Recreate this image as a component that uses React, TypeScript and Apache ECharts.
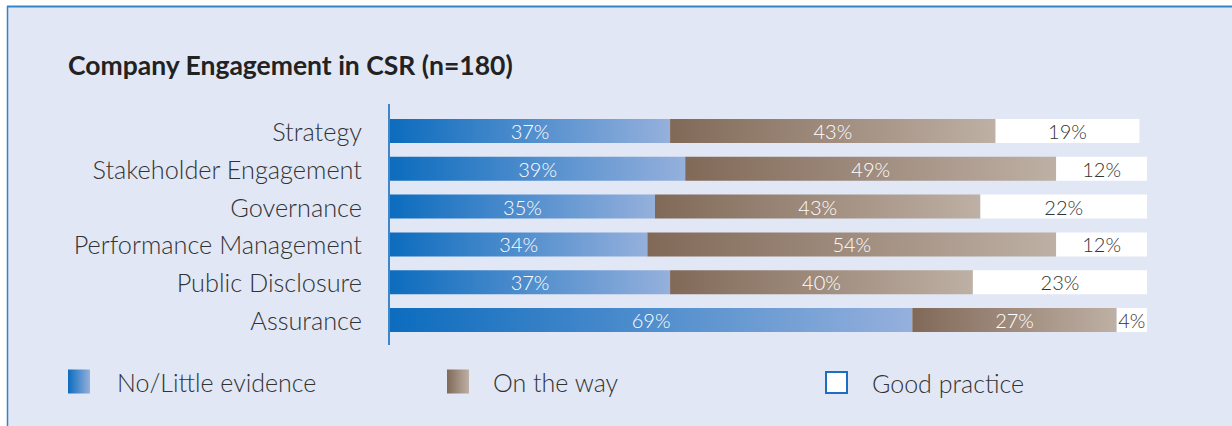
import React, { useEffect, useRef } from "react";
import * as echarts from "echarts";

const categories = [
  "Strategy",
  "Stakeholder Engagement",
  "Governance",
  "Performance Management",
  "Public Disclosure",
  "Assurance",
];
const noLittleEvidence = [37, 39, 35, 34, 37, 69];
const onTheWay = [43, 49, 43, 54, 40, 27];
const goodPractice = [19, 12, 22, 12, 23, 4];
const seriesNames = ["No/Little evidence", "On the way", "Good practice"];

const FONT = "Lato";

export default function App() {
  const ref = useRef<HTMLDivElement>(null);
  useEffect(() => {
    if (!ref.current) return;
    const chart = echarts.init(ref.current, null, { renderer: "svg" });
    const blueGrad = new echarts.graphic.LinearGradient(0, 0, 1, 0, [
      { offset: 0, color: "#0c6cbe" },
      { offset: 1, color: "#95b0dc" },
    ]);
    const brownGrad = new echarts.graphic.LinearGradient(0, 0, 1, 0, [
      { offset: 0, color: "#816958" },
      { offset: 1, color: "#beb0a4" },
    ]);
    const labelBase = {
      show: true,
      position: "inside" as const,
      formatter: "{c}%",
      fontFamily: FONT,
      fontWeight: 300 as any,
      fontSize: 20,
    };
    const legendText = {
      fontFamily: FONT,
      fontWeight: 300 as any,
      fontSize: 25,
      color: "#333333",
    };
    chart.setOption({
      animation: false,
      backgroundColor: "#ffffff",
      graphic: [
        {
          type: "rect",
          z: -10,
          shape: { x: 7, y: 6, width: 1226, height: 421 },
          style: { fill: "#e1e7f5" },
          silent: true,
        },
        {
          type: "line",
          z: -5,
          shape: { x1: 7, y1: 6.5, x2: 1232, y2: 6.5 },
          style: { stroke: "#3484c8", lineWidth: 2 },
          silent: true,
        },
        {
          type: "line",
          z: -5,
          shape: { x1: 7.5, y1: 6, x2: 7.5, y2: 426 },
          style: { stroke: "#3484c8", lineWidth: 1.5 },
          silent: true,
        },
        {
          type: "line",
          z: 5,
          shape: { x1: 389, y1: 104, x2: 389, y2: 345 },
          style: { stroke: "#3f86c9", lineWidth: 2 },
          silent: true,
        },
      ],
      title: {
        text: "Company Engagement in CSR (n=180)",
        left: 63,
        top: 46,
        textStyle: {
          fontFamily: FONT,
          fontWeight: "bold",
          fontSize: 26.5,
          color: "#222222",
        },
      },
      legend: [
        {
          data: [seriesNames[0]],
          left: 68,
          top: 369,
          padding: 0,
          icon: "rect",
          itemWidth: 22,
          itemHeight: 24,
          textStyle: { ...legendText, padding: [0, 0, 0, 22] },
          selectedMode: false,
        },
        {
          data: [seriesNames[1]],
          left: 447,
          top: 369,
          padding: 0,
          icon: "rect",
          itemWidth: 22,
          itemHeight: 24,
          textStyle: { ...legendText, padding: [0, 0, 0, 19] },
          selectedMode: false,
        },
        {
          data: [
            {
              name: seriesNames[2],
              itemStyle: { color: "#ffffff", borderColor: "#1a6fc0", borderWidth: 2 },
            },
          ],
          left: 825,
          top: 370,
          padding: 0,
          icon: "rect",
          itemWidth: 21,
          itemHeight: 21,
          textStyle: { ...legendText, padding: [0, 0, 0, 20] },
          selectedMode: false,
        },
      ],
      grid: { left: 390, right: 85, top: 112, height: 227, containLabel: false },
      xAxis: { type: "value", min: 0, max: 100, show: false },
      yAxis: {
        type: "category",
        inverse: true,
        data: categories,
        axisLine: { show: false },
        axisTick: { show: false },
        splitLine: { show: false },
        axisLabel: {
          margin: 28,
          fontFamily: FONT,
          fontWeight: 300 as any,
          fontSize: 25.3,
          color: "#333333",
          padding: [0, 0, 5, 0],
        },
      },
      series: [
        {
          name: seriesNames[0],
          type: "bar",
          stack: "total",
          barWidth: 24,
          data: noLittleEvidence,
          itemStyle: { color: blueGrad },
          label: { ...labelBase, color: "#ffffff" },
        },
        {
          name: seriesNames[1],
          type: "bar",
          stack: "total",
          barWidth: 24,
          data: onTheWay,
          itemStyle: { color: brownGrad },
          label: { ...labelBase, color: "#ffffff" },
        },
        {
          name: seriesNames[2],
          type: "bar",
          stack: "total",
          barWidth: 24,
          data: goodPractice,
          itemStyle: { color: "#ffffff" },
          label: { ...labelBase, color: "#333333" },
        },
      ],
    });
    return () => chart.dispose();
  }, []);
  return (
    <div
      ref={ref}
      style={{ position: "fixed", left: 0, top: 0, width: 1232, height: 426 }}
    />
  );
}
